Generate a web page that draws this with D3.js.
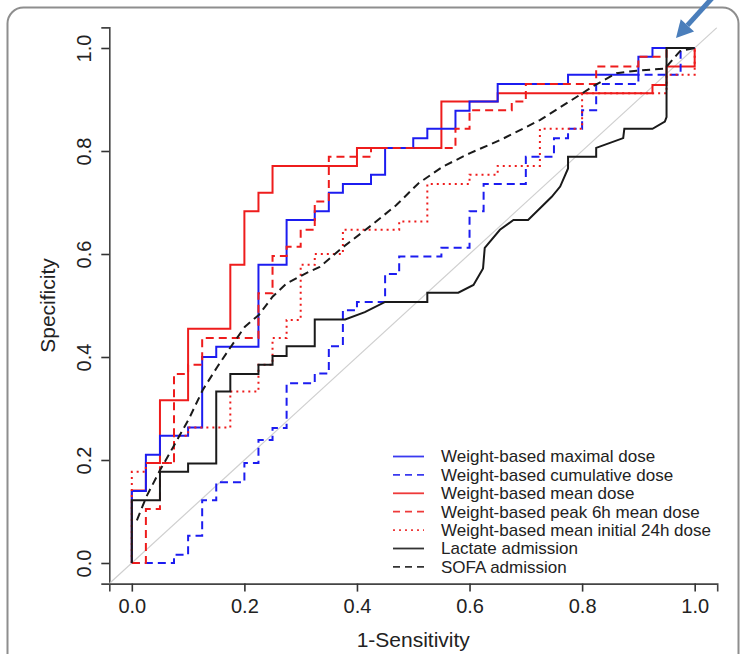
<!DOCTYPE html>
<html><head><meta charset="utf-8">
<script src="https://cdn.jsdelivr.net/npm/d3@7/dist/d3.min.js"></script>
<style>
body{margin:0;background:#fff;}
text{font-family:"Liberation Sans",Arial,Helvetica,sans-serif;fill:#222;}
</style>
</head><body>
<svg id="chart" width="743" height="654"></svg>
<script>
// ---------- data ----------
const xTicks = [0, 0.2, 0.4, 0.6, 0.8, 1.0];
const yTicks = [0, 0.2, 0.4, 0.6, 0.8, 1.0];
const xTitle = "1-Sensitivity";
const yTitle = "Specificity";
const legendLabels = [
  "Weight-based maximal dose",
  "Weight-based cumulative dose",
  "Weight-based mean dose",
  "Weight-based peak 6h mean dose",
  "Weight-based mean initial 24h dose",
  "Lactate admission",
  "SOFA admission"
];
// step curves: [x where the curve rises, value after the rise]
const maxDose = [[0,0],[0,0.14],[0.025,0.21],[0.05,0.247],[0.1,0.263],[0.125,0.40],[0.15,0.42],[0.225,0.579],[0.275,0.666],[0.325,0.683],[0.35,0.719],[0.375,0.736],[0.425,0.754],[0.45,0.806],[0.5,0.825],[0.525,0.843],[0.575,0.878],[0.6,0.896],[0.65,0.93],[0.775,0.948],[0.9,0.983],[0.925,1.0],[1.0,1.0]];
const cumDose = [[0,0],[0.075,0.016],[0.1,0.053],[0.125,0.122],[0.15,0.157],[0.2,0.194],[0.225,0.239],[0.25,0.262],[0.275,0.349],[0.325,0.368],[0.35,0.421],[0.375,0.491],[0.4,0.507],[0.45,0.561],[0.475,0.595],[0.55,0.612],[0.6,0.683],[0.625,0.736],[0.7,0.789],[0.75,0.825],[0.775,0.843],[0.8,0.879],[0.825,0.93],[0.9,0.948],[0.975,1.0],[1.0,1.0]];
const meanDose = [[0,0],[0,0.141],[0.025,0.194],[0.05,0.316],[0.1,0.455],[0.175,0.579],[0.2,0.683],[0.225,0.719],[0.25,0.771],[0.4,0.806],[0.55,0.896],[0.65,0.912],[0.925,0.928],[0.95,0.964],[1.0,1.0]];
const peak6hDose = [[0,0],[0.025,0.105],[0.05,0.194],[0.075,0.367],[0.1,0.385],[0.125,0.437],[0.225,0.524],[0.25,0.596],[0.275,0.614],[0.3,0.647],[0.325,0.702],[0.35,0.789],[0.425,0.806],[0.575,0.843],[0.6,0.879],[0.675,0.896],[0.7,0.93],[0.825,0.964],[0.9,0.983],[0.95,1.0],[1.0,1.0]];
const initial24hDose = [[0,0],[0,0.177],[0.025,0.194],[0.075,0.247],[0.1,0.263],[0.175,0.333],[0.225,0.385],[0.25,0.437],[0.275,0.472],[0.3,0.579],[0.325,0.60],[0.375,0.647],[0.475,0.663],[0.525,0.736],[0.6,0.754],[0.65,0.771],[0.725,0.843],[0.8,0.912],[0.95,0.948],[1.0,1.0]];
// polylines
const lactate = [[0,0],[0,0.122],[0.05,0.122],[0.05,0.177],[0.1,0.177],[0.1,0.193],[0.15,0.193],[0.15,0.333],[0.175,0.333],[0.175,0.367],[0.225,0.367],[0.225,0.385],[0.25,0.385],[0.25,0.402],[0.275,0.402],[0.275,0.421],[0.325,0.421],[0.325,0.473],[0.379,0.473],[0.414,0.487],[0.45,0.507],[0.525,0.507],[0.525,0.525],[0.58,0.525],[0.607,0.54],[0.624,0.572],[0.627,0.612],[0.654,0.647],[0.678,0.666],[0.704,0.666],[0.746,0.711],[0.761,0.731],[0.775,0.766],[0.775,0.789],[0.825,0.789],[0.825,0.806],[0.873,0.825],[0.875,0.843],[0.925,0.843],[0.947,0.857],[0.95,0.866],[0.95,1.0],[1.0,1.0]];
const sofa = [[0.009,0.083],[0.026,0.129],[0.05,0.18],[0.077,0.232],[0.102,0.281],[0.126,0.336],[0.152,0.381],[0.176,0.42],[0.201,0.459],[0.226,0.482],[0.25,0.517],[0.275,0.543],[0.31,0.563],[0.334,0.575],[0.376,0.614],[0.426,0.656],[0.47,0.695],[0.509,0.737],[0.553,0.77],[0.601,0.796],[0.654,0.821],[0.678,0.834],[0.725,0.86],[0.796,0.909],[0.823,0.928],[0.861,0.951],[0.897,0.956],[0.947,0.96],[0.974,0.994],[1.0,1.0]];
const diagonal = [[-0.04,-0.04],[1.04,1.04]];

// ---------- layout ----------
const svg = d3.select("#chart");
const x = d3.scaleLinear().domain([-0.04, 1.04]).range([109.3, 717.2]);
const y = d3.scaleLinear().domain([-0.04, 1.04]).range([583.6, 27.4]);

// outer frame
svg.append("rect").attr("x",7.5).attr("y",7.5).attr("width",731).attr("height",720)
  .attr("rx",16).attr("fill","none").attr("stroke","#8e8e8e").attr("stroke-width",2);

const fmt = d3.format(".1f");
// x axis
const gx = svg.append("g").attr("transform",`translate(0,${y.range()[0]})`)
  .call(d3.axisBottom(x).tickValues(xTicks).tickFormat(fmt).tickSizeOuter(0).tickSize(8));
gx.select(".domain").attr("stroke","#444").attr("stroke-width",1.6);
gx.selectAll(".tick line").attr("stroke","#333").attr("stroke-width",1.6);
gx.selectAll(".tick text").attr("y",22).attr("dy","0.35em")
  .style("font-size","20px").attr("fill","#222");
// y axis
const gy = svg.append("g").attr("transform",`translate(${x.range()[0]},0)`)
  .call(d3.axisLeft(y).tickValues(yTicks).tickFormat(fmt).tickSizeOuter(0).tickSize(8));
gy.select(".domain").attr("stroke","#444").attr("stroke-width",1.6);
gy.selectAll(".tick line").attr("stroke","#333").attr("stroke-width",1.6);
gy.selectAll(".tick text").attr("x",null).attr("dy",null)
  .attr("transform","translate(-25,0) rotate(-90)")
  .attr("text-anchor","middle").attr("dy","0.35em")
  .style("font-size","20px").attr("fill","#222");
svg.selectAll(".tick text").style("font-family","'Liberation Sans',Arial,sans-serif");

// axis titles
svg.append("text").attr("x",x(0.5)).attr("y",640).attr("text-anchor","middle")
  .attr("dy","0.35em").style("font-size","21px").text(xTitle);
svg.append("text").attr("transform",`translate(48,${y(0.5)}) rotate(-90)`)
  .attr("text-anchor","middle").attr("dy","0.35em").style("font-size","21px").text(yTitle);

// clip
svg.append("clipPath").attr("id","plotclip").append("rect")
  .attr("x",x.range()[0]).attr("y",y.range()[1])
  .attr("width",x.range()[1]-x.range()[0]).attr("height",y.range()[0]-y.range()[1]);

const plot = svg.append("g").attr("clip-path","url(#plotclip)");
const lineLin = d3.line().x(d=>x(d[0])).y(d=>y(d[1]));
const lineStep = d3.line().x(d=>x(d[0])).y(d=>y(d[1])).curve(d3.curveStepAfter);

plot.append("path").attr("d",lineLin(diagonal)).attr("fill","none")
  .attr("stroke","#cfcfcf").attr("stroke-width",1.2);

const series = [
  {data: meanDose, gen: lineStep, color:"#ee1c1c", dash:null},
  {data: maxDose, gen: lineStep, color:"#1c1cf0", dash:null},
  {data: cumDose, gen: lineStep, color:"#1c1cf0", dash:"8,5"},
  {data: peak6hDose, gen: lineStep, color:"#ee1c1c", dash:"8,5"},
  {data: initial24hDose, gen: lineStep, color:"#ee1c1c", dash:"2,4"},
  {data: lactate, gen: lineLin, color:"#1a1a1a", dash:null},
  {data: sofa, gen: lineLin, color:"#1a1a1a", dash:"8,5"}
];
series.forEach(s => {
  plot.append("path").attr("d", s.gen(s.data)).attr("fill","none")
    .attr("stroke", s.color).attr("stroke-width", 2)
    .attr("stroke-dasharray", s.dash).attr("stroke-linejoin","miter");
});

// legend
const legendStyles = [
  {color:"#3a3af0", dash:null},
  {color:"#3a3af0", dash:"7,5"},
  {color:"#ee3a3a", dash:null},
  {color:"#ee3a3a", dash:"7,5"},
  {color:"#ee3a3a", dash:"2,4"},
  {color:"#333", dash:null},
  {color:"#333", dash:"7,5"}
];
const lg = svg.append("g");
legendLabels.forEach((lab, i) => {
  const yy = 456.5 + i*18.4;
  lg.append("line").attr("x1",393).attr("x2",424).attr("y1",yy).attr("y2",yy)
    .attr("stroke",legendStyles[i].color).attr("stroke-width",1.8)
    .attr("stroke-dasharray",legendStyles[i].dash);
  lg.append("text").attr("x",441).attr("y",yy).attr("dy","0.35em")
    .style("font-size","17px").text(lab);
});

// blue annotation arrow
const ax0 = 714, ay0 = -4, ax1 = 676, ay1 = 38;
const ang = Math.atan2(ay1-ay0, ax1-ax0);
const hl = 17, hw = 9;
const bx = ax1 - hl*Math.cos(ang), by = ay1 - hl*Math.sin(ang);
svg.append("line").attr("x1",ax0).attr("y1",ay0).attr("x2",bx).attr("y2",by)
  .attr("stroke","#4a7ebb").attr("stroke-width",5);
svg.append("path").attr("d",`M${ax1},${ay1} L${bx + hw*Math.sin(ang)},${by - hw*Math.cos(ang)} L${bx - hw*Math.sin(ang)},${by + hw*Math.cos(ang)} Z`)
  .attr("fill","#4a7ebb");
</script>
</body></html>
